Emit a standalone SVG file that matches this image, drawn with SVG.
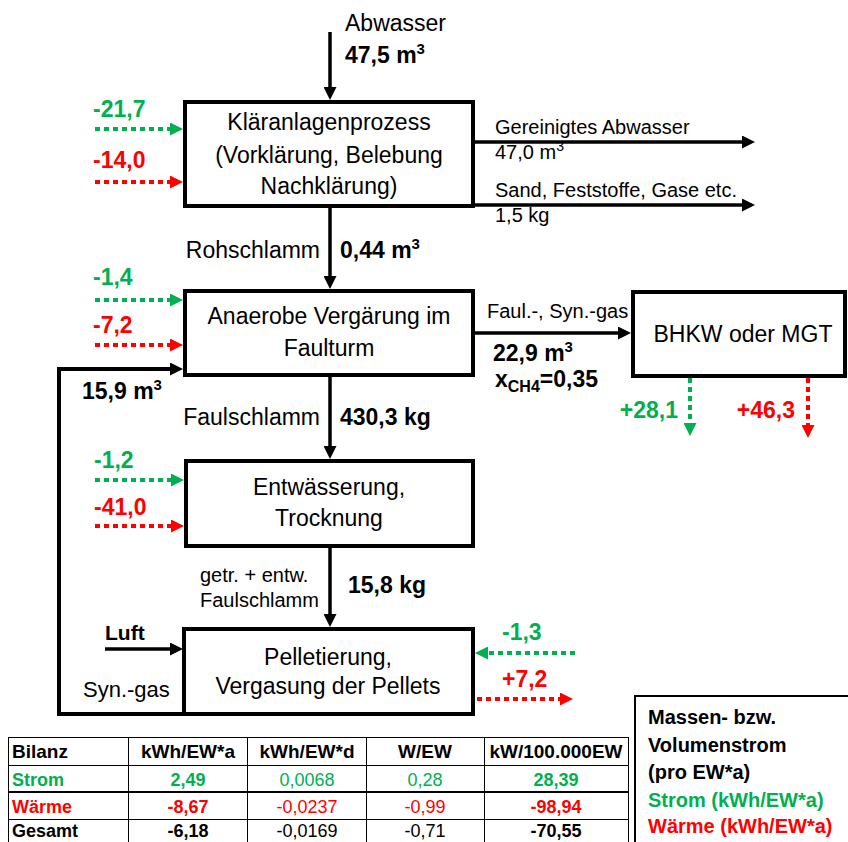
<svg xmlns="http://www.w3.org/2000/svg" width="848" height="842" viewBox="0 0 848 842">
<defs>
<style>
text{font-family:"Liberation Sans",Arial,sans-serif;fill:#000}
.t23{font-size:23px}
.t20{font-size:20px}
.b{font-weight:bold}
.g{fill:#00B050}
.r{fill:#FF0000}
.mid{text-anchor:middle}
.end{text-anchor:end}
.box{fill:#fff;stroke:#000;stroke-width:4}
.arr{fill:none;stroke:#000;stroke-width:3.5}
.dg{fill:none;stroke:#00B050;stroke-width:4;stroke-dasharray:5 4}
.dr{fill:none;stroke:#FF0000;stroke-width:4;stroke-dasharray:5 4}
.tl{stroke:#000;stroke-width:1}
.tt{font-size:18px}
.th{font-size:19px}
.sup{font-size:15px}
</style>
<marker id="ah" markerUnits="userSpaceOnUse" markerWidth="13" markerHeight="13" refX="3" refY="6.5" orient="auto"><path d="M0,0 L13,6.5 L0,13 z" fill="#000"/></marker>
<marker id="ag" markerUnits="userSpaceOnUse" markerWidth="13" markerHeight="13" refX="3" refY="6.5" orient="auto"><path d="M0,0 L13,6.5 L0,13 z" fill="#00B050"/></marker>
<marker id="ar" markerUnits="userSpaceOnUse" markerWidth="13" markerHeight="13" refX="3" refY="6.5" orient="auto"><path d="M0,0 L13,6.5 L0,13 z" fill="#FF0000"/></marker>
</defs>
<rect width="848" height="842" fill="#fff"/>

<g id="connectors">
<path class="arr" d="M330,32 V90" marker-end="url(#ah)"/>
<path class="arr" d="M330,208 V279" marker-end="url(#ah)"/>
<path class="arr" d="M330,377 V449" marker-end="url(#ah)"/>
<path class="arr" d="M330,548 V617" marker-end="url(#ah)"/>
<path class="arr" d="M475,142 H745" marker-end="url(#ah)"/>
<path class="arr" d="M475,205 H745" marker-end="url(#ah)"/>
<path class="arr" d="M475,333 H621" marker-end="url(#ah)"/>
<path class="arr" style="stroke-width:4" d="M184,714 H59 V369 H173" marker-end="url(#ah)"/>
<path class="arr" d="M105,649 H173" marker-end="url(#ah)"/>
<path class="dg" d="M95,129 H173" marker-end="url(#ag)"/>
<path class="dr" d="M95,182 H173" marker-end="url(#ar)"/>
<path class="dg" d="M95,300 H173" marker-end="url(#ag)"/>
<path class="dr" d="M95,345 H173" marker-end="url(#ar)"/>
<path class="dg" d="M95,480 H174" marker-end="url(#ag)"/>
<path class="dr" d="M95,526 H174" marker-end="url(#ar)"/>
<path class="dg" d="M575,653 H485" marker-end="url(#ag)"/>
<path class="dr" d="M477,699 H563" marker-end="url(#ar)"/>
<path class="dg" d="M690,378 V426" marker-end="url(#ag)"/>
<path class="dr" d="M808,378 V428" marker-end="url(#ar)"/>
</g>

<g id="labels">
<text class="t23" x="345" y="31">Abwasser</text>
<text class="t23 b" x="345" y="63">47,5 m<tspan class="sup" dy="-9">3</tspan></text>
<text class="t23 b g" x="93" y="117">-21,7</text>
<text class="t23 b r" x="93" y="168">-14,0</text>
<text class="t20" x="495" y="134">Gereinigtes Abwasser</text>
<text class="t20" x="495" y="159">47,0 m<tspan class="sup" dy="-8" style="font-size:14px">3</tspan></text>
<text class="t20" x="495" y="197">Sand, Feststoffe, Gase etc.</text>
<text class="t20" x="495" y="222">1,5 kg</text>
<text class="t23 end" x="320" y="258">Rohschlamm</text>
<text class="t23 b" x="340" y="258">0,44 m<tspan class="sup" dy="-9">3</tspan></text>
<text class="t23 b g" x="93" y="285">-1,4</text>
<text class="t23 b r" x="93" y="333">-7,2</text>
<text class="t20" x="487" y="318">Faul.-, Syn.-gas</text>
<text class="t23 b" x="493" y="361">22,9 m<tspan class="sup" dy="-9">3</tspan></text>
<text class="t23 b" x="495" y="387">x<tspan font-size="16" dy="5">CH4</tspan><tspan dy="-5">=0,35</tspan></text>
<text class="t23 b" x="82" y="399">15,9 m<tspan class="sup" dy="-9">3</tspan></text>
<text class="t23 b g end" x="678" y="418">+28,1</text>
<text class="t23 b r end" x="795" y="418">+46,3</text>
<text class="t23 end" x="320" y="425">Faulschlamm</text>
<text class="t23 b" x="340" y="425">430,3 kg</text>
<text class="t23 b g" x="94" y="468">-1,2</text>
<text class="t23 b r" x="94" y="515">-41,0</text>
<text class="t20" x="200" y="582">getr. + entw.</text>
<text class="t20" x="200" y="607">Faulschlamm</text>
<text class="t23 b" x="348" y="593">15,8 kg</text>
<text class="t20 b" x="105" y="640" style="font-size:21px">Luft</text>
<text class="t20" x="83" y="697" style="font-size:22px">Syn.-gas</text>
<text class="t23 b g" x="502" y="640">-1,3</text>
<text class="t23 b r" x="502" y="687">+7,2</text>
</g>

<g id="n-klaeranlage">
<rect class="box" x="185" y="102" width="288" height="104"/>
<text class="t23 mid" x="329" y="130">Kläranlagenprozess</text>
<text class="t23 mid" x="329" y="163">(Vorklärung, Belebung</text>
<text class="t23 mid" x="329" y="194">Nachklärung)</text>
</g>

<g id="n-anaerob">
<rect class="box" x="185" y="291" width="288" height="84"/>
<text class="t23 mid" x="329" y="324">Anaerobe Vergärung im</text>
<text class="t23 mid" x="329" y="356">Faulturm</text>
</g>

<g id="n-bhkw">
<rect class="box" x="633" y="292" width="212" height="84"/>
<text class="t23 mid" x="743" y="342">BHKW oder MGT</text>
</g>

<g id="n-entwaesserung">
<rect class="box" x="186" y="461" width="287" height="85"/>
<text class="t23 mid" x="329" y="495">Entwässerung,</text>
<text class="t23 mid" x="329" y="526">Trocknung</text>
</g>

<g id="n-pelletierung">
<rect class="box" x="184" y="629" width="289" height="85"/>
<text class="t23 mid" x="328" y="665">Pelletierung,</text>
<text class="t23 mid" x="328" y="694">Vergasung der Pellets</text>
</g>

<g id="legend">
<rect x="635" y="696" width="230" height="160" fill="#fff" stroke="#000" stroke-width="2"/>
<text class="t20 b" x="648" y="724">Massen- bzw.</text>
<text class="t20 b" x="648" y="752">Volumenstrom</text>
<text class="t20 b" x="648" y="779">(pro EW*a)</text>
<text class="t20 b g" x="648" y="807">Strom (kWh/EW*a)</text>
<text class="t20 b r" x="648" y="833">Wärme (kWh/EW*a)</text>
</g>

<g id="table">
<rect x="8.5" y="737.5" width="620" height="120" fill="#fff" stroke="#000" stroke-width="1"/>
<line class="tl" x1="128.5" y1="737" x2="128.5" y2="842"/>
<line class="tl" x1="247.5" y1="737" x2="247.5" y2="842"/>
<line class="tl" x1="366.5" y1="737" x2="366.5" y2="842"/>
<line class="tl" x1="484.5" y1="737" x2="484.5" y2="842"/>
<line class="tl" x1="8" y1="765.5" x2="629" y2="765.5"/>
<line class="tl" x1="8" y1="792" x2="629" y2="792" style="stroke-width:2"/>
<line class="tl" x1="8" y1="819.5" x2="629" y2="819.5"/>
<text class="th b" x="12" y="758">Bilanz</text>
<text class="th b mid" x="188" y="758">kWh/EW*a</text>
<text class="th b mid" x="307" y="758">kWh/EW*d</text>
<text class="th b mid" x="425" y="758">W/EW</text>
<text class="th b mid" x="556" y="758">kW/100.000EW</text>
<text class="tt b g" x="12" y="786">Strom</text>
<text class="tt b g mid" x="188" y="786">2,49</text>
<text class="tt g mid" x="307" y="786">0,0068</text>
<text class="tt g mid" x="425" y="786">0,28</text>
<text class="tt b g mid" x="556" y="786">28,39</text>
<text class="tt b r" x="12" y="813">Wärme</text>
<text class="tt b r mid" x="188" y="813">-8,67</text>
<text class="tt r mid" x="307" y="813">-0,0237</text>
<text class="tt r mid" x="425" y="813">-0,99</text>
<text class="tt b r mid" x="556" y="813">-98,94</text>
<text class="tt b" x="12" y="837">Gesamt</text>
<text class="tt b mid" x="188" y="837">-6,18</text>
<text class="tt mid" x="307" y="837">-0,0169</text>
<text class="tt mid" x="425" y="837">-0,71</text>
<text class="tt b mid" x="556" y="837">-70,55</text>
</g>
</svg>
